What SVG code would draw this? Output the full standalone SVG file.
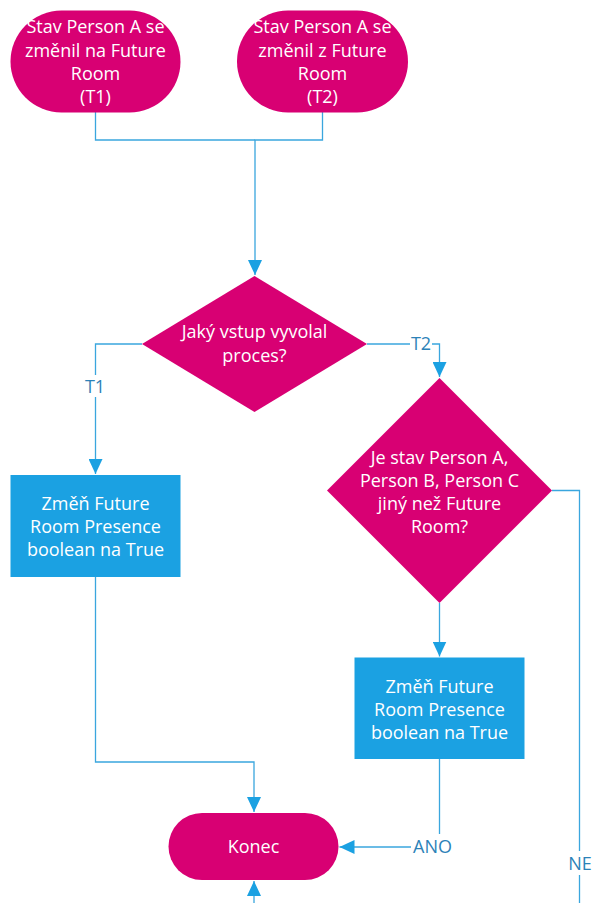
<svg xmlns="http://www.w3.org/2000/svg" width="594" height="903" viewBox="0 0 594 903">
  <style>
    .term, .dec { fill: #D80073; }
    .proc { fill: #1BA1E2; }
    .ntext { font-family: "Open Sans", "Noto Sans", sans-serif; font-size: 18px; fill: #FFFFFF; text-anchor: middle; }
    .label { font-family: "Open Sans", "Noto Sans", sans-serif; font-size: 18px; fill: #2C82B8; text-anchor: middle; }
    .conn { fill: none; stroke: #3AA6DE; stroke-width: 1.3; }
  </style>
  <defs>
    <marker id="arrow" markerUnits="userSpaceOnUse" markerWidth="16" markerHeight="14" refX="15" refY="7" orient="auto">
      <path d="M0,0 L15,7 L0,14 Z" fill="#1BA1E2"/>
    </marker>
  </defs>
  <rect width="594" height="903" fill="#FFFFFF"/>

  <!-- connectors -->
  <g id="connectors">
    <polyline class="conn" points="95.5,112 95.5,140 255,140"/>
    <polyline class="conn" points="322.5,112 322.5,140 255,140 255,275" marker-end="url(#arrow)"/>
    <!-- T1 branch -->
    <polyline class="conn" points="142,344 95.5,344 95.5,375"/>
    <polyline class="conn" points="95.5,397 95.5,474" marker-end="url(#arrow)"/>
    <!-- T2 branch -->
    <polyline class="conn" points="367,344 410,344"/>
    <polyline class="conn" points="432,344 439.5,344 439.5,377" marker-end="url(#arrow)"/>
    <!-- yes path -->
    <polyline class="conn" points="439.5,603 439.5,656.5" marker-end="url(#arrow)"/>
    <polyline class="conn" points="439.5,759 439.5,834"/>
    <polyline class="conn" points="411,847 339.5,847" marker-end="url(#arrow)"/>
    <!-- no path -->
    <polyline class="conn" points="552,490.5 579.5,490.5 579.5,851"/>
    <polyline class="conn" points="579.5,875 579.5,910"/>
    <!-- process 1 to end -->
    <polyline class="conn" points="95.5,577 95.5,762 254,762 254,812" marker-end="url(#arrow)"/>
    <!-- return into end from below -->
    <polyline class="conn" points="254,910 254,881" marker-end="url(#arrow)"/>
    <!-- connector labels -->
    <text class="label" x="95" y="393">T1</text>
    <text class="label" x="421" y="350">T2</text>
    <text class="label" x="432.5" y="853">ANO</text>
    <text class="label" x="580" y="870">NE</text>
  </g>

  <g id="start-t1">
    <rect class="term" x="10.5" y="10.5" width="170" height="102" rx="51" ry="51"/>
    <text class="ntext" x="95.5" y="33">Stav Person A se</text>
    <text class="ntext" x="95.5" y="56.5">změnil na Future</text>
    <text class="ntext" x="95.5" y="80">Room</text>
    <text class="ntext" x="95.5" y="103">(T1)</text>
  </g>

  <g id="start-t2">
    <rect class="term" x="237" y="10.5" width="171" height="102" rx="51" ry="51"/>
    <text class="ntext" x="322.5" y="33">Stav Person A se</text>
    <text class="ntext" x="322.5" y="56.5">změnil z Future</text>
    <text class="ntext" x="322.5" y="80">Room</text>
    <text class="ntext" x="322.5" y="103">(T2)</text>
  </g>

  <g id="decision-input">
    <polygon class="dec" points="254.5,276 367,344 254.5,412 142,344"/>
    <text class="ntext" x="254.5" y="337.5">Jaký vstup vyvolal</text>
    <text class="ntext" x="254.5" y="361.5">proces?</text>
  </g>

  <g id="process-t1">
    <rect class="proc" x="10.5" y="475" width="170" height="102"/>
    <text class="ntext" x="95.5" y="509.5">Změň Future</text>
    <text class="ntext" x="95.5" y="532.5">Room Presence</text>
    <text class="ntext" x="95.5" y="555.5">boolean na True</text>
  </g>

  <g id="decision-state">
    <polygon class="dec" points="439.5,378 552,490.5 439.5,603 327,490.5"/>
    <text class="ntext" x="439.5" y="463.5">Je stav Person A,</text>
    <text class="ntext" x="439.5" y="486.5">Person B, Person C</text>
    <text class="ntext" x="439.5" y="509.5">jiný než Future</text>
    <text class="ntext" x="439.5" y="532.5">Room?</text>
  </g>

  <g id="process-t2">
    <rect class="proc" x="354.5" y="657.5" width="170" height="101.5"/>
    <text class="ntext" x="439.5" y="692.5">Změň Future</text>
    <text class="ntext" x="439.5" y="715.5">Room Presence</text>
    <text class="ntext" x="439.5" y="738.5">boolean na True</text>
  </g>

  <g id="end">
    <rect class="term" x="168.5" y="813" width="170" height="67" rx="33.5" ry="33.5"/>
    <text class="ntext" x="253.5" y="853">Konec</text>
  </g>
</svg>
